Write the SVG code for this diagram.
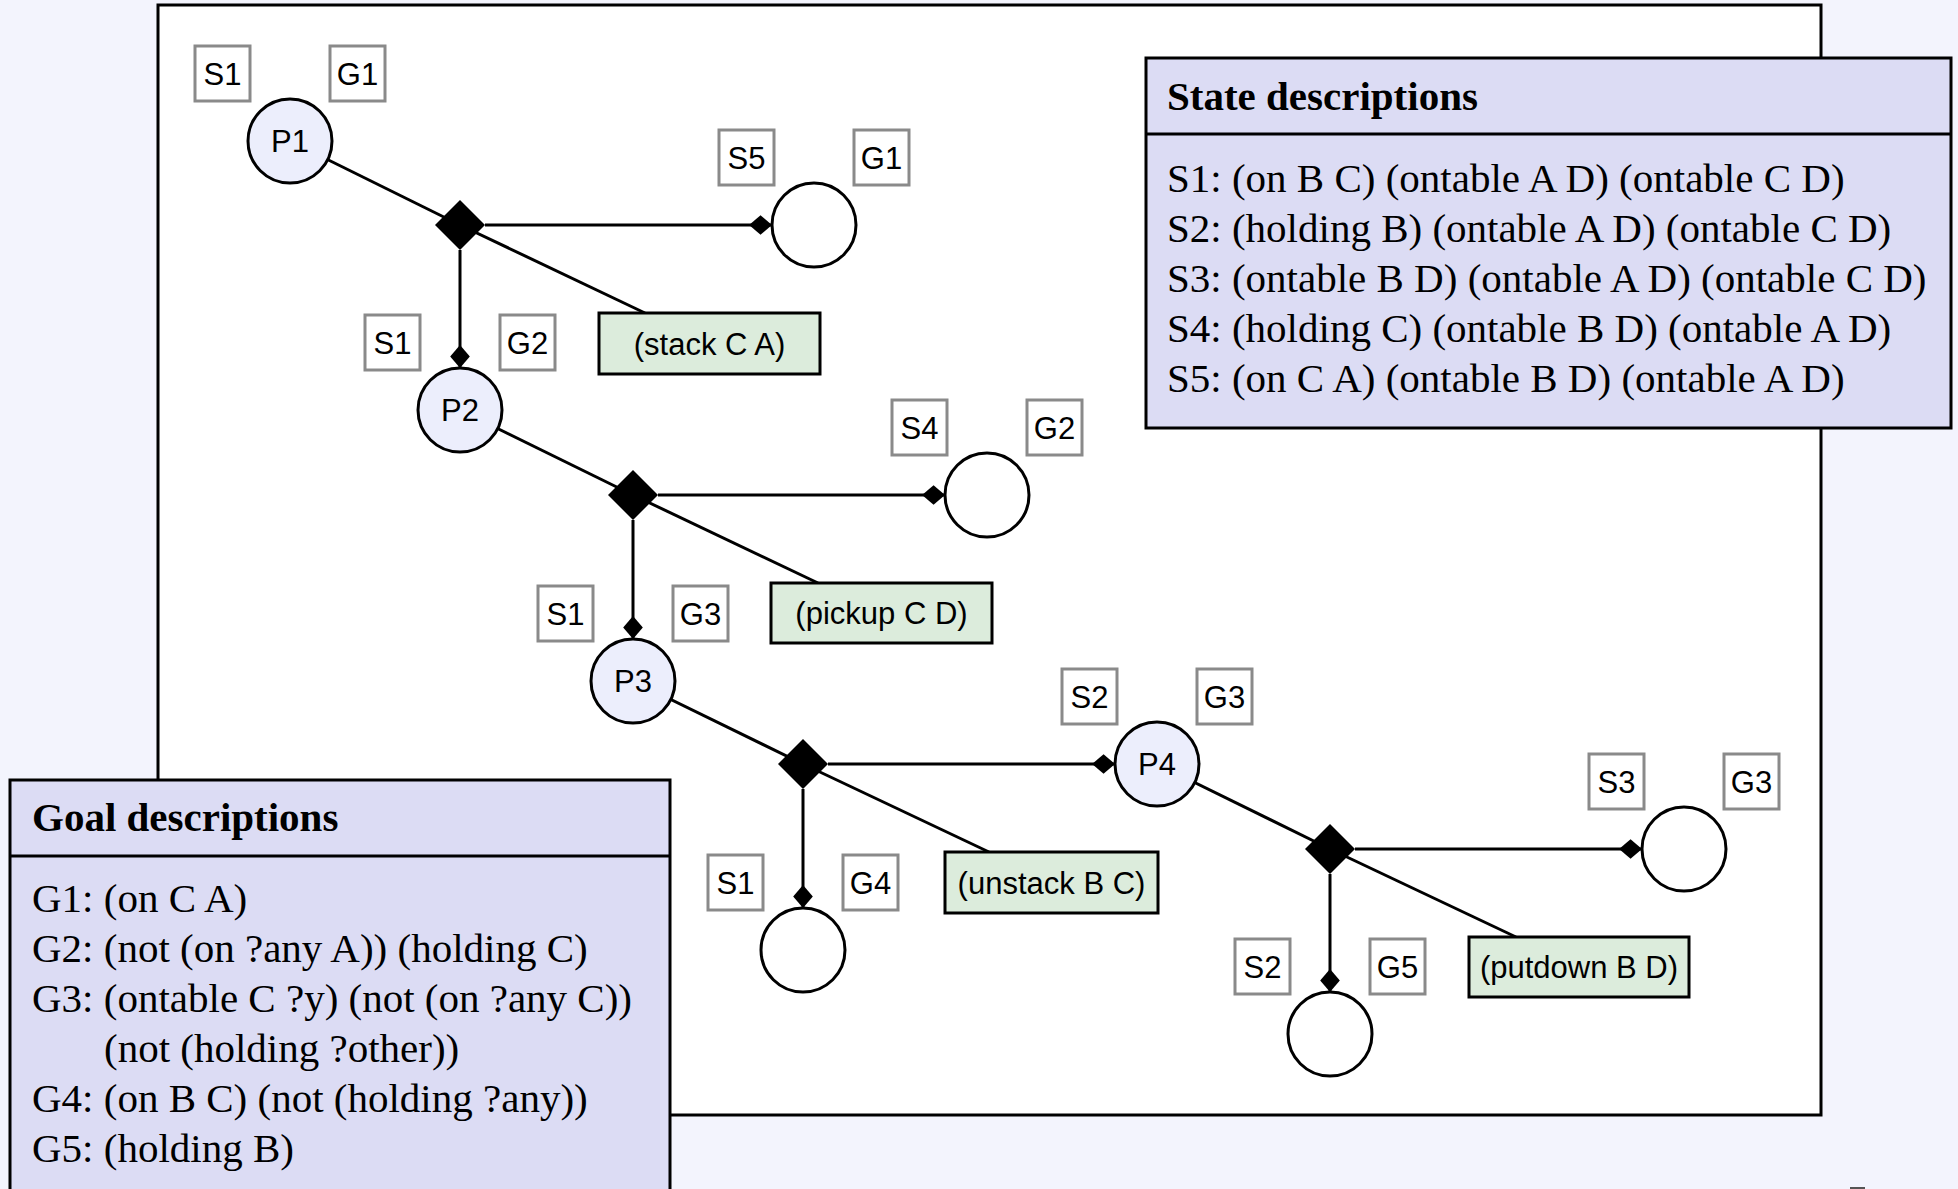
<svg xmlns="http://www.w3.org/2000/svg" width="1958" height="1189" viewBox="0 0 1958 1189">
<defs>
<marker id="dm" markerUnits="userSpaceOnUse" markerWidth="24" markerHeight="22" viewBox="0 -10 22 20" refX="21" refY="0" orient="auto">
<path d="M0,0 L10.5,-9 L21,0 L10.5,9 Z" fill="#000"/>
</marker>
<style>
.bg{fill:#f3f4fd}
.frame{fill:#fff;stroke:#000;stroke-width:3}
.box{fill:#dcdcf4;stroke:#000;stroke-width:3}
.div{stroke:#000;stroke-width:3}
.ttl{font-family:"Liberation Serif","Times New Roman",serif;font-size:41px;font-weight:bold;fill:#000}
.txt{font-family:"Liberation Serif","Times New Roman",serif;font-size:41px;fill:#000}
.p{fill:#eceefc;stroke:#000;stroke-width:3}
.c{fill:#fff;stroke:#000;stroke-width:3}
.lbl rect{fill:#fff;stroke:#8a8a8a;stroke-width:3}
.s{font-family:"Liberation Sans",Arial,sans-serif;font-size:31px;fill:#000;text-anchor:middle}
.act{fill:#dcecdc;stroke:#000;stroke-width:3}
.dia{fill:#000}
.ln{stroke:#000;stroke-width:3;fill:none}
.lm{stroke:#000;stroke-width:3;fill:none;marker-end:url(#dm)}
</style>
</defs>
<rect class="bg" x="0" y="0" width="1958" height="1189"/>
<rect class="frame" x="158" y="5" width="1663" height="1110"/>

<g id="connectors">
<line class="ln" x1="290" y1="141" x2="460" y2="225"/>
<line class="ln" x1="460" y1="225" x2="645" y2="313"/>
<line class="lm" x1="485" y1="225" x2="772" y2="225"/>
<line class="lm" x1="460" y1="250" x2="460" y2="368"/>

<line class="ln" x1="460" y1="410" x2="633" y2="495"/>
<line class="ln" x1="633" y1="495" x2="818" y2="583"/>
<line class="lm" x1="658" y1="495" x2="945" y2="495"/>
<line class="lm" x1="633" y1="520" x2="633" y2="639"/>

<line class="ln" x1="633" y1="681" x2="803" y2="764"/>
<line class="ln" x1="803" y1="764" x2="989" y2="852"/>
<line class="lm" x1="828" y1="764" x2="1115" y2="764"/>
<line class="lm" x1="803" y1="789" x2="803" y2="908"/>

<line class="ln" x1="1157" y1="764" x2="1330" y2="849"/>
<line class="ln" x1="1330" y1="849" x2="1516" y2="937"/>
<line class="lm" x1="1355" y1="849" x2="1642" y2="849"/>
<line class="lm" x1="1330" y1="874" x2="1330" y2="992"/>
</g>

<g id="P1"><circle class="p" cx="290" cy="141" r="42"/><text class="s" x="290" y="152">P1</text></g>
<g id="P1-S"><g class="lbl"><rect x="195" y="46" width="55" height="55"/><text class="s" x="222.5" y="84.5">S1</text></g></g>
<g id="P1-G"><g class="lbl"><rect x="330" y="46" width="55" height="55"/><text class="s" x="357.5" y="84.5">G1</text></g></g>
<g id="D1"><polygon class="dia" points="460,200 485,225 460,250 435,225"/></g>
<g id="A1"><rect class="act" x="599" y="313" width="221" height="61"/><text class="s" x="709.5" y="354.5">(stack C A)</text></g>
<g id="C1"><circle class="c" cx="814" cy="225" r="42"/></g>
<g id="C1-S"><g class="lbl"><rect x="719" y="130" width="55" height="55"/><text class="s" x="746.5" y="168.5">S5</text></g></g>
<g id="C1-G"><g class="lbl"><rect x="854" y="130" width="55" height="55"/><text class="s" x="881.5" y="168.5">G1</text></g></g>

<g id="P2"><circle class="p" cx="460" cy="410" r="42"/><text class="s" x="460" y="421">P2</text></g>
<g id="P2-S"><g class="lbl"><rect x="365" y="315" width="55" height="55"/><text class="s" x="392.5" y="353.5">S1</text></g></g>
<g id="P2-G"><g class="lbl"><rect x="500" y="315" width="55" height="55"/><text class="s" x="527.5" y="353.5">G2</text></g></g>
<g id="D2"><polygon class="dia" points="633,470 658,495 633,520 608,495"/></g>
<g id="A2"><rect class="act" x="771" y="583" width="221" height="60"/><text class="s" x="881.5" y="624">(pickup C D)</text></g>
<g id="C2"><circle class="c" cx="987" cy="495" r="42"/></g>
<g id="C2-S"><g class="lbl"><rect x="892" y="400" width="55" height="55"/><text class="s" x="919.5" y="438.5">S4</text></g></g>
<g id="C2-G"><g class="lbl"><rect x="1027" y="400" width="55" height="55"/><text class="s" x="1054.5" y="438.5">G2</text></g></g>

<g id="P3"><circle class="p" cx="633" cy="681" r="42"/><text class="s" x="633" y="692">P3</text></g>
<g id="P3-S"><g class="lbl"><rect x="538" y="586" width="55" height="55"/><text class="s" x="565.5" y="624.5">S1</text></g></g>
<g id="P3-G"><g class="lbl"><rect x="673" y="586" width="55" height="55"/><text class="s" x="700.5" y="624.5">G3</text></g></g>
<g id="D3"><polygon class="dia" points="803,739 828,764 803,789 778,764"/></g>
<g id="A3"><rect class="act" x="945" y="852" width="213" height="61"/><text class="s" x="1051.5" y="893.5">(unstack B C)</text></g>
<g id="C3"><circle class="c" cx="803" cy="950" r="42"/></g>
<g id="C3-S"><g class="lbl"><rect x="708" y="855" width="55" height="55"/><text class="s" x="735.5" y="893.5">S1</text></g></g>
<g id="C3-G"><g class="lbl"><rect x="843" y="855" width="55" height="55"/><text class="s" x="870.5" y="893.5">G4</text></g></g>

<g id="P4"><circle class="p" cx="1157" cy="764" r="42"/><text class="s" x="1157" y="775">P4</text></g>
<g id="P4-S"><g class="lbl"><rect x="1062" y="669" width="55" height="55"/><text class="s" x="1089.5" y="707.5">S2</text></g></g>
<g id="P4-G"><g class="lbl"><rect x="1197" y="669" width="55" height="55"/><text class="s" x="1224.5" y="707.5">G3</text></g></g>
<g id="D4"><polygon class="dia" points="1330,824 1355,849 1330,874 1305,849"/></g>
<g id="A4"><rect class="act" x="1469" y="937" width="220" height="60"/><text class="s" x="1579" y="978">(putdown B D)</text></g>
<g id="C4"><circle class="c" cx="1684" cy="849" r="42"/></g>
<g id="C4-S"><g class="lbl"><rect x="1589" y="754" width="55" height="55"/><text class="s" x="1616.5" y="792.5">S3</text></g></g>
<g id="C4-G"><g class="lbl"><rect x="1724" y="754" width="55" height="55"/><text class="s" x="1751.5" y="792.5">G3</text></g></g>
<g id="C5"><circle class="c" cx="1330" cy="1034" r="42"/></g>
<g id="C5-S"><g class="lbl"><rect x="1235" y="939" width="55" height="55"/><text class="s" x="1262.5" y="977.5">S2</text></g></g>
<g id="C5-G"><g class="lbl"><rect x="1370" y="939" width="55" height="55"/><text class="s" x="1397.5" y="977.5">G5</text></g></g>

<g id="state-descriptions">
<rect class="box" x="1146" y="58" width="805" height="370"/>
<line class="div" x1="1146" y1="134" x2="1951" y2="134"/>
<text class="ttl" x="1167" y="110">State descriptions</text>
<text class="txt" x="1167" y="192">S1: (on B C) (ontable A D) (ontable C D)</text>
<text class="txt" x="1167" y="242">S2: (holding B) (ontable A D) (ontable C D)</text>
<text class="txt" x="1167" y="292">S3: (ontable B D) (ontable A D) (ontable C D)</text>
<text class="txt" x="1167" y="342">S4: (holding C) (ontable B D) (ontable A D)</text>
<text class="txt" x="1167" y="392">S5: (on C A) (ontable B D) (ontable A D)</text>
</g>

<g id="goal-descriptions">
<rect class="box" x="10" y="780" width="660" height="430"/>
<line class="div" x1="10" y1="856" x2="670" y2="856"/>
<text class="ttl" x="32" y="831">Goal descriptions</text>
<text class="txt" x="32" y="912">G1: (on C A)</text>
<text class="txt" x="32" y="962">G2: (not (on ?any A)) (holding C)</text>
<text class="txt" x="32" y="1012">G3: (ontable C ?y) (not (on ?any C))</text>
<text class="txt" x="104" y="1062">(not (holding ?other))</text>
<text class="txt" x="32" y="1112">G4: (on B C) (not (holding ?any))</text>
<text class="txt" x="32" y="1162">G5: (holding B)</text>
</g>
<rect x="1850" y="1187" width="15" height="2" fill="#555"/>
</svg>
